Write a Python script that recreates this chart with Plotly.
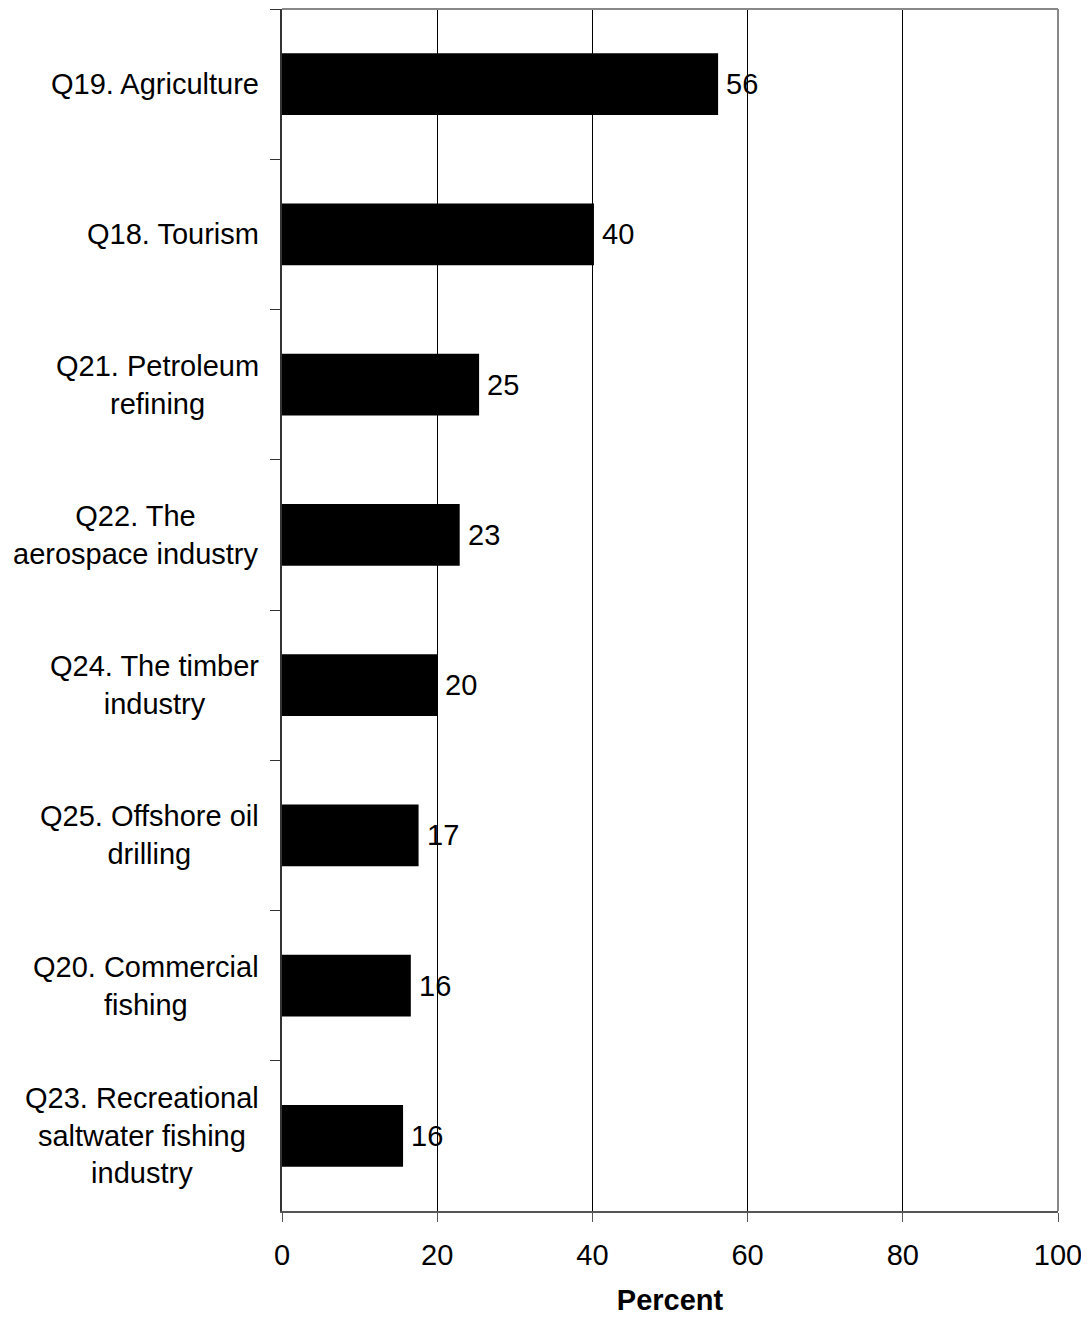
import plotly.graph_objects as go

# categories top to bottom
categories = [
    "Q19. Agriculture",
    "Q18. Tourism",
    "Q21. Petroleum<br>refining",
    "Q22. The<br>aerospace industry",
    "Q24. The timber<br>industry",
    "Q25. Offshore oil<br>drilling",
    "Q20. Commercial<br>fishing",
    "Q23. Recreational<br>saltwater fishing<br>industry",
]
percent = [56.2, 40.2, 25.4, 22.9, 20.0, 17.6, 16.6, 15.6]
value_labels = ["56", "40", "25", "23", "20", "17", "16", "16"]
x_ticks = [0, 20, 40, 60, 80, 100]

font = "Liberation Sans, Arial, sans-serif"
fsize = 29

fig = go.Figure()
fig.add_trace(go.Bar(
    y=categories,
    x=percent,
    orientation="h",
    marker=dict(color="black", line=dict(width=0)),
    width=0.41,
    hoverinfo="x+y",
))

# value labels just right of each bar
for cat, val, lab in zip(categories, percent, value_labels):
    fig.add_annotation(x=val, y=cat, text=lab, showarrow=False,
                       xanchor="left", xshift=6,
                       font=dict(family=font, size=fsize, color="black"))

# category labels, centred lines, right-aligned block next to the axis
for cat in categories:
    fig.add_annotation(x=0, xref="paper", y=cat, text=cat, showarrow=False,
                       xanchor="right", align="center", xshift=-21,
                       font=dict(family=font, size=fsize, color="black"))

# gray border on top and right
fig.add_shape(type="line", xref="paper", yref="paper", x0=0, x1=1, y0=1, y1=1,
              line=dict(color="#888888", width=2))
fig.add_shape(type="line", xref="paper", yref="paper", x0=1, x1=1, y0=0, y1=1,
              line=dict(color="#888888", width=2))

fig.update_xaxes(range=[0, 100], tickvals=x_ticks, showgrid=True,
                 gridcolor="black", gridwidth=1, zeroline=False,
                 showline=True, linecolor="#555555", linewidth=2,
                 ticks="outside", ticklen=9, tickcolor="#555555", tickwidth=1,
                 ticklabelstandoff=8,
                 tickfont=dict(family=font, size=fsize, color="black"),
                 title=dict(text="<b>Percent</b>", standoff=20,
                            font=dict(family=font, size=fsize, color="black")))
fig.update_yaxes(categoryorder="array", categoryarray=categories,
                 autorange="reversed", showticklabels=False,
                 showline=True, linecolor="#333333", linewidth=2,
                 ticks="outside", tickson="boundaries", ticklen=10,
                 tickcolor="#333333", showgrid=False)

# page body adds an 8px offset, so the figure is a bit smaller than the window
fig.update_layout(width=1081, height=1309, plot_bgcolor="white",
                  paper_bgcolor="white", showlegend=False, bargap=0.59,
                  margin=dict(l=274, r=31, t=1, b=106))
fig.write_html("out.html")
